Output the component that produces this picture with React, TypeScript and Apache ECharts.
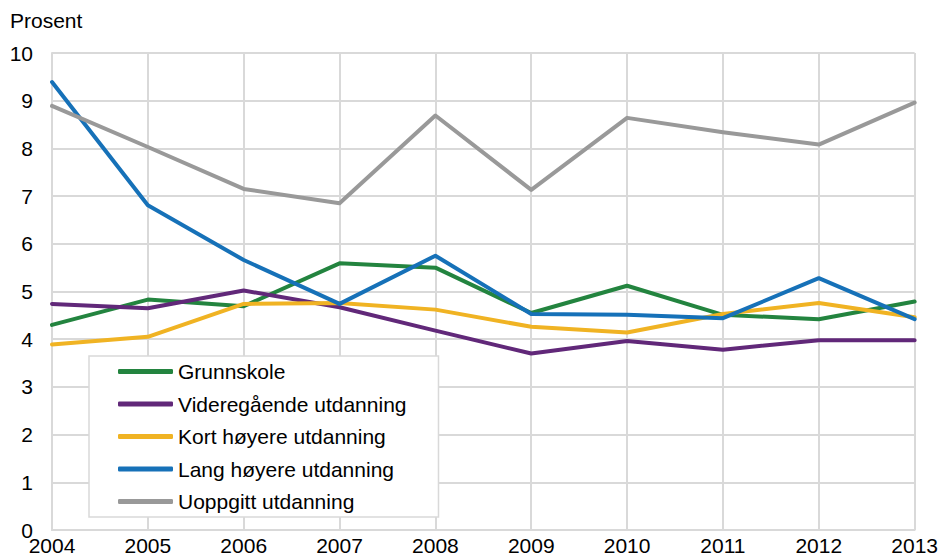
import React, { useEffect, useRef } from "react";
import * as echarts from "echarts";

const years = ["2004", "2005", "2006", "2007", "2008", "2009", "2010", "2011", "2012", "2013"];
const grunnskole = [4.3, 4.83, 4.69, 5.59, 5.5, 4.55, 5.12, 4.51, 4.42, 4.79];
const videregaende = [4.74, 4.65, 5.02, 4.67, 4.18, 3.7, 3.96, 3.78, 3.98, 3.98];
const kortHoyere = [3.89, 4.05, 4.74, 4.76, 4.62, 4.26, 4.14, 4.53, 4.76, 4.46];
const langHoyere = [9.39, 6.81, 5.66, 4.74, 5.75, 4.53, 4.51, 4.44, 5.28, 4.42];
const uoppgitt = [8.89, 8.03, 7.15, 6.85, 8.69, 7.13, 8.64, 8.34, 8.08, 8.96];
const yTicks = [0, 10, 1]; // min, max, interval

const FONT = "'Liberation Sans', Arial, Helvetica, sans-serif";

export default function App() {
  const ref = useRef<HTMLDivElement>(null);
  useEffect(() => {
    if (!ref.current) return;
    const chart = echarts.init(ref.current, undefined, { renderer: "svg" });
    const mk = (name: string, data: number[], color: string) => ({
      name,
      type: "line",
      data,
      symbol: "none",
      lineStyle: { width: 4, color, cap: "round", join: "round" },
      itemStyle: { color },
    });
    chart.setOption({
      animation: false,
      textStyle: { fontFamily: FONT },
      grid: { left: 52, right: 23, top: 53, bottom: 25, containLabel: false },
      graphic: [
        {
          type: "text",
          left: 10,
          top: 10,
          style: { text: "Prosent", font: `21px ${FONT}`, fill: "#000" },
        },
      ],
      legend: {
        orient: "vertical",
        left: 89,
        top: 356,
        padding: [5, 32, 5, 29],
        itemGap: 11.5,
        itemWidth: 55,
        itemHeight: 5,
        icon: "roundRect",
        backgroundColor: "#fff",
        borderColor: "#d9d9d9",
        borderWidth: 1.5,
        textStyle: { fontSize: 21, color: "#000", fontFamily: FONT },
        data: [
          "Grunnskole",
          "Videregående utdanning",
          "Kort høyere utdanning",
          "Lang høyere utdanning",
          "Uoppgitt utdanning",
        ],
      },
      xAxis: {
        type: "category",
        data: years,
        boundaryGap: false,
        axisLine: { show: true, lineStyle: { color: "#d9d9d9", width: 2 } },
        axisTick: { show: false },
        axisLabel: { fontSize: 21, color: "#000", margin: 5, fontFamily: FONT },
        splitLine: { show: true, lineStyle: { color: "#d9d9d9", width: 2 } },
      },
      yAxis: {
        type: "value",
        min: yTicks[0],
        max: yTicks[1],
        interval: yTicks[2],
        axisLine: { show: true, lineStyle: { color: "#d9d9d9", width: 2 } },
        axisTick: { show: false },
        axisLabel: { fontSize: 21, color: "#000", margin: 19, fontFamily: FONT },
        splitLine: { show: true, lineStyle: { color: "#d9d9d9", width: 2 } },
      },
      series: [
        mk("Grunnskole", grunnskole, "#23843f"),
        mk("Videregående utdanning", videregaende, "#612879"),
        mk("Kort høyere utdanning", kortHoyere, "#f0b323"),
        mk("Lang høyere utdanning", langHoyere, "#1671b8"),
        mk("Uoppgitt utdanning", uoppgitt, "#999999"),
      ],
    });
    return () => chart.dispose();
  }, []);
  return <div ref={ref} style={{ width: 941, height: 556, position: "absolute", left: 0, top: 0 }} />;
}
